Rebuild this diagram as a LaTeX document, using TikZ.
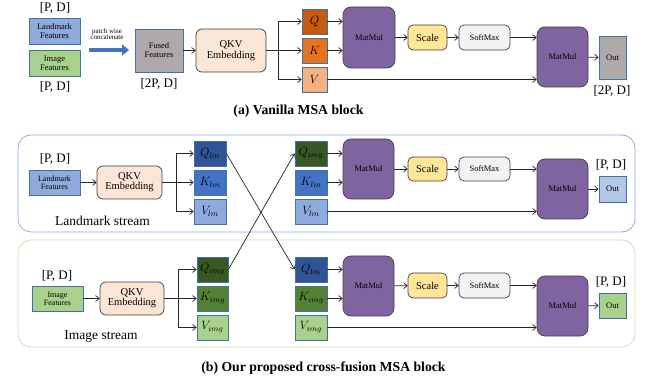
\documentclass[tikz,border=0pt]{standalone}
\usepackage{fontspec}
\setmainfont{Liberation Serif}
\usetikzlibrary{arrows.meta,calc}

\definecolor{lmblue}{HTML}{8FAADC}
\definecolor{lmmid}{HTML}{4472C4}
\definecolor{lmdark}{HTML}{2F5597}
\definecolor{imgreen}{HTML}{A9D18E}
\definecolor{immid}{HTML}{548235}
\definecolor{imdark}{HTML}{385723}
\definecolor{edgeblue}{HTML}{41719C}
\definecolor{fusedgray}{HTML}{AEAAAA}
\definecolor{peach}{HTML}{FBE5D6}
\definecolor{qbrown}{HTML}{C55A11}
\definecolor{korange}{HTML}{E8731F}
\definecolor{vorange}{HTML}{F4B183}
\definecolor{mmpurple}{HTML}{8064A2}
\definecolor{scaleyellow}{HTML}{FFE699}
\definecolor{smgray}{HTML}{F2F2F2}
\definecolor{outblue}{HTML}{B4C7E7}
\definecolor{framegreen}{HTML}{C5E0B4}
\definecolor{darkedge}{HTML}{404040}

\tikzset{
  sqbox/.style={draw=edgeblue, line width=0.7pt, inner sep=0pt, align=center},
  mathbox/.style={sqbox, font=\fontsize{11.5}{12}\selectfont},
  rbox/.style={draw=darkedge, line width=0.7pt, rounded corners=5pt, inner sep=0pt, align=center},
  mmbox/.style={rbox, fill=mmpurple, rounded corners=8pt, font=\fontsize{8.5}{9}\selectfont},
  qkvbox/.style={rbox, fill=peach, rounded corners=6pt, font=\fontsize{10.5}{12}\selectfont},
  featfont/.style={font=\fontsize{8.5}{10}\selectfont},
  dimlabel/.style={font=\fontsize{13}{14}\selectfont, inner sep=0pt},
  caption/.style={font=\fontsize{13.7}{15}\selectfont\bfseries},
  conn/.style={line width=0.7pt, draw=black!85, -{Straight Barb[length=3.5pt,width=6pt]}},
  plain/.style={line width=0.7pt, draw=black!85},
  frame/.style={line width=0.8pt, rounded corners=13pt},
}

\begin{document}
\begin{tikzpicture}[x=1pt, y=-1pt]
\useasboundingbox (0,0) rectangle (651,382);

% ---------------- (a) Vanilla MSA block ----------------
\node[dimlabel] (pda1) at (55,8) {[P, D]};
\node[sqbox, fill=lmblue, featfont, minimum width=51pt, minimum height=26pt] (lfa) at (54.5,31) {Landmark\\[-1pt]Features};
\node[sqbox, fill=imgreen, featfont, minimum width=51pt, minimum height=26pt] (imfa) at (54.5,63) {Image\\[-1pt]Features};
\node[dimlabel] (pda2) at (55,87) {[P, D]};

\coordinate (catL) at (89,50);
\coordinate (catR) at (129,50);
\draw[line width=4.5pt, draw=lmmid, -{Triangle[length=7pt,width=11pt]}] (catL) -- (catR);
\node[font=\fontsize{7}{8}\selectfont, align=center] (cattxt) at (107,34) {patch wise\\[-1.5pt]concatenate};

\node[sqbox, fill=fusedgray, featfont, minimum width=48pt, minimum height=43pt] (fused) at (159,50.5) {Fused\\[-1pt]Features};
\node[dimlabel] (pda3) at (159,84) {[2P, D]};

\node[qkvbox, minimum width=70pt, minimum height=43pt] (qkva) at (231,50.5) {QKV\\[-1pt]Embedding};
\draw[conn] (fused) -- (qkva);

\node[mathbox, fill=qbrown, minimum width=25pt, minimum height=25pt] (qa) at (314.5,21.5) {$Q$};
\node[mathbox, fill=korange, minimum width=25pt, minimum height=25pt] (ka) at (314.5,50.5) {$K$};
\node[mathbox, fill=vorange, minimum width=25pt, minimum height=25pt] (va) at (314.5,79.5) {$V$};

\coordinate (bra) at (278,50.5);
\draw[plain] (qkva.east) -- (bra);
\draw[conn] (bra) |- (qa);
\draw[conn] (bra) -- (ka);
\draw[conn] (bra) |- (va);

\node[mmbox, minimum width=52pt, minimum height=61pt] (mma1) at (369,37.5) {MatMul};
\node[rbox, fill=scaleyellow, minimum width=39pt, minimum height=25pt, font=\fontsize{10.5}{12}\selectfont] (sca) at (427.5,37.5) {Scale};
\node[rbox, fill=smgray, minimum width=51pt, minimum height=25pt, font=\fontsize{8.5}{10}\selectfont] (sma) at (484.5,37.5) {SoftMax};
\node[mmbox, minimum width=51pt, minimum height=60pt] (mma2) at (562.5,57) {MatMul};
\node[sqbox, fill=fusedgray, minimum width=27pt, minimum height=43pt, font=\fontsize{8.5}{10}\selectfont] (outa) at (612.5,57.5) {Out};
\node[dimlabel] (pda4) at (612,91) {[2P, D]};

\draw[conn] (qa.east) -- (qa.east -| mma1.west);
\draw[conn] (ka.east) -- (ka.east -| mma1.west);
\draw[conn] (mma1) -- (sca);
\draw[conn] (sca) -- (sma);
\draw[conn] (sma.east) -- (sma.east -| mma2.west);
\draw[conn] (va.east) -- (va.east -| mma2.west);
\draw[conn] (mma2) -- (outa);

\node[caption] (titlea) at (298.5,111) {(a) Vanilla MSA block};

% ---------------- (b) cross-fusion MSA block ----------------
\draw[frame, draw=lmblue] (18,135) rectangle (635,232);
\draw[frame, draw=framegreen] (18,240) rectangle (635,347);

% landmark stream
\node[dimlabel] (pdb1) at (55,159) {[P, D]};
\node[sqbox, fill=lmblue, font=\fontsize{8}{9}\selectfont, minimum width=51pt, minimum height=25pt] (lfb) at (54.5,182.5) {Landmark\\[-1pt]Features};
\node[qkvbox, minimum width=65pt, minimum height=33pt] (qkvb) at (129.5,182.5) {QKV\\[-2pt]Embedding};
\draw[conn] (lfb) -- (qkvb);
\node[font=\fontsize{13.5}{14}\selectfont] (lmtxt) at (102.5,221) {Landmark stream};

\node[mathbox, fill=lmdark, minimum width=32pt, minimum height=25pt] (qlm) at (210,153.5) {$Q_{lm}$};
\node[mathbox, fill=lmmid, minimum width=32pt, minimum height=25pt] (klm) at (210,182.5) {$K_{lm}$};
\node[mathbox, fill=lmblue, minimum width=32pt, minimum height=25pt] (vlm) at (210,211.5) {$V_{lm}$};
\coordinate (brb) at (176,182.5);
\draw[plain] (qkvb.east) -- (brb);
\draw[conn] (brb) |- (qlm);
\draw[conn] (brb) -- (klm);
\draw[conn] (brb) |- (vlm);

\node[mathbox, fill=imdark, minimum width=32pt, minimum height=25pt] (qimgr) at (311,153.5) {$Q_{img}$};
\node[mathbox, fill=lmmid, minimum width=32pt, minimum height=25pt] (klmr) at (311,182.5) {$K_{lm}$};
\node[mathbox, fill=lmblue, minimum width=32pt, minimum height=25pt] (vlmr) at (311,211.5) {$V_{lm}$};

\node[mmbox, minimum width=51pt, minimum height=60pt] (mmb1) at (368.5,169) {MatMul};
\node[rbox, fill=scaleyellow, minimum width=39pt, minimum height=24pt, font=\fontsize{10.5}{12}\selectfont] (scb) at (427.5,169) {Scale};
\node[rbox, fill=smgray, minimum width=51pt, minimum height=24pt, font=\fontsize{8.5}{10}\selectfont] (smb) at (484.5,169) {SoftMax};
\node[mmbox, minimum width=51pt, minimum height=60pt] (mmb2) at (562.5,189) {MatMul};
\node[sqbox, fill=outblue, minimum width=27pt, minimum height=26pt, font=\fontsize{8.5}{10}\selectfont] (outb) at (612.5,189) {Out};
\node[dimlabel] (pdb2) at (611,165) {[P, D]};

\draw[conn] (qimgr.east) -- (qimgr.east -| mmb1.west);
\draw[conn] (klmr.east) -- (klmr.east -| mmb1.west);
\draw[conn] (mmb1) -- (scb);
\draw[conn] (scb) -- (smb);
\draw[conn] (smb.east) -- (smb.east -| mmb2.west);
\draw[conn] (vlmr.east) -- (vlmr.east -| mmb2.west);
\draw[conn] (mmb2) -- (outb);

% image stream
\node[dimlabel] (pdc1) at (57,276) {[P, D]};
\node[sqbox, fill=imgreen, font=\fontsize{8}{9}\selectfont, minimum width=51pt, minimum height=25pt] (imfb) at (57.5,298.5) {Image\\[-1pt]Features};
\node[qkvbox, minimum width=64pt, minimum height=33pt] (qkvc) at (132,298.5) {QKV\\[-2pt]Embedding};
\draw[conn] (imfb) -- (qkvc);
\node[font=\fontsize{13.5}{14}\selectfont] (imtxt) at (101,337) {Image stream};

\node[mathbox, fill=imdark, minimum width=31pt, minimum height=25pt] (qimg) at (212.5,269.5) {$Q_{img}$};
\node[mathbox, fill=immid, minimum width=31pt, minimum height=25pt] (kimg) at (212.5,298.5) {$K_{img}$};
\node[mathbox, fill=imgreen, minimum width=31pt, minimum height=25pt] (vimg) at (212.5,327.5) {$V_{img}$};
\coordinate (brc) at (178,298.5);
\draw[plain] (qkvc.east) -- (brc);
\draw[conn] (brc) |- (qimg);
\draw[conn] (brc) -- (kimg);
\draw[conn] (brc) |- (vimg);

\node[mathbox, fill=lmdark, minimum width=32pt, minimum height=25pt] (qlmr) at (311,269.5) {$Q_{lm}$};
\node[mathbox, fill=immid, minimum width=32pt, minimum height=25pt] (kimgr) at (311,298.5) {$K_{img}$};
\node[mathbox, fill=imgreen, minimum width=32pt, minimum height=25pt] (vimgr) at (311,327.5) {$V_{img}$};

\node[mmbox, minimum width=51pt, minimum height=60pt] (mmc1) at (368.5,286) {MatMul};
\node[rbox, fill=scaleyellow, minimum width=39pt, minimum height=25pt, font=\fontsize{10.5}{12}\selectfont] (scc) at (427.5,285.5) {Scale};
\node[rbox, fill=smgray, minimum width=51pt, minimum height=25pt, font=\fontsize{8.5}{10}\selectfont] (smc) at (484.5,285.5) {SoftMax};
\node[mmbox, minimum width=51pt, minimum height=60pt] (mmc2) at (562.5,306) {MatMul};
\node[sqbox, fill=imgreen, minimum width=27pt, minimum height=25pt, font=\fontsize{8.5}{10}\selectfont] (outc) at (612.5,305.5) {Out};
\node[dimlabel] (pdc2) at (611,282) {[P, D]};

\draw[conn] (qlmr.east) -- (qlmr.east -| mmc1.west);
\draw[conn] (kimgr.east) -- (kimgr.east -| mmc1.west);
\draw[conn] (mmc1) -- (scc);
\draw[conn] (scc) -- (smc);
\draw[conn] (smc.east) -- (smc.east -| mmc2.west);
\draw[conn] (vimgr.east) -- (vimgr.east -| mmc2.west);
\draw[conn] (mmc2) -- (outc);

% cross-fusion of the queries
\draw[conn] (qlm.east) -- (qlmr.west);
\draw[conn] (qimg.east) -- (qimgr.west);

\node[caption] (titleb) at (323.5,368) {(b) Our proposed cross-fusion MSA block};
\end{tikzpicture}
\end{document}
